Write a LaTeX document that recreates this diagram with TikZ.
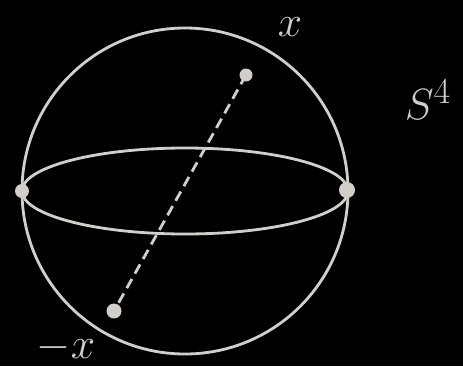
\documentclass[tikz,border=0pt]{standalone}
\usepackage{amsmath,amssymb}
\usepackage{xcolor}
\usetikzlibrary{calc}
\definecolor{chalk}{HTML}{D2CFCA}

\begin{document}
\begin{tikzpicture}[x=0.02cm,y=-0.02cm,line width=1.6pt,draw=chalk,
    lbl/.style={text=chalk,font=\fontsize{32}{34}\selectfont}]
    \def\R{163}
    \fill[black] (0,0) rectangle (463,366);
    \useasboundingbox (0,0) rectangle (463,366);
    \coordinate (O) at (185,191);
    % sphere and equator
    \draw[chalk] (O) circle [radius=\R];
    \draw[chalk] (O) ellipse [x radius=\R, y radius=43];
    \coordinate (west) at (22,191);
    \coordinate (east) at (347,190);
    \fill[chalk] (west) circle (7);
    \fill[chalk] (east) circle (8);
    % antipodal pair
    \coordinate (p) at (246,75);
    \coordinate (q) at (114,311);
    \draw[chalk,dash pattern=on 6pt off 3.5pt] (p) -- (q);
    \fill[chalk] (p) circle (6.5);
    \fill[chalk] (q) circle (7.5);
    \node[lbl] (xl) at (290,27) {$x$};
    \node[lbl] (mxl) at (66,348) {$-x$};
    \node[lbl] (sl) at (428,100) {$S^4$};
\end{tikzpicture}
\end{document}
